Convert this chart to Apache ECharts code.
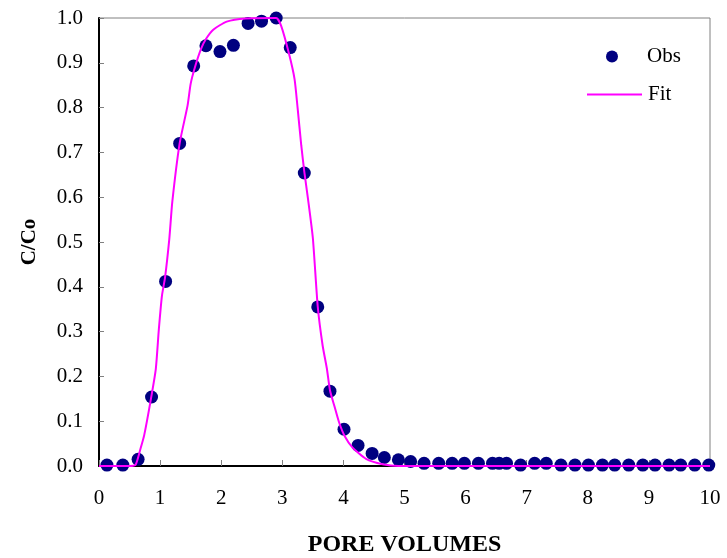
<!DOCTYPE html>
<html>
<head>
<meta charset="utf-8">
<script src="https://cdn.jsdelivr.net/npm/echarts@6/dist/echarts.min.js"></script>
<style>
  html, body { margin: 0; padding: 0; background: #fff; }
  #chart { width: 727px; height: 558px; }
</style>
</head>
<body>
<div id="chart"></div>
<script>
// Observed breakthrough concentrations (pore volumes vs C/Co)
const obsX = [0.13, 0.39, 0.64, 0.86, 1.09, 1.32, 1.55, 1.75, 1.98, 2.20, 2.44, 2.66, 2.90,
  3.13, 3.36, 3.58, 3.78, 4.01, 4.24, 4.47, 4.67, 4.90, 5.10, 5.32, 5.56, 5.78, 5.98, 6.21,
  6.44, 6.55, 6.67, 6.90, 7.13, 7.32, 7.56, 7.79, 8.01, 8.24, 8.44, 8.67, 8.90, 9.10, 9.33,
  9.52, 9.75, 9.98];
const obsY = [0.002, 0.002, 0.015, 0.154, 0.412, 0.720, 0.893, 0.938, 0.925, 0.939, 0.988, 0.993, 1.000,
  0.934, 0.654, 0.355, 0.167, 0.082, 0.046, 0.028, 0.019, 0.014, 0.010, 0.006, 0.006, 0.006, 0.006, 0.006,
  0.006, 0.006, 0.006, 0.002, 0.006, 0.006, 0.002, 0.002, 0.002, 0.002, 0.002, 0.002, 0.002, 0.002, 0.002,
  0.002, 0.002, 0.002];

// Fitted model curve
const fitX = [0, 0.50, 0.60, 0.68, 0.74, 0.85, 0.93, 0.98, 1.03, 1.08, 1.15, 1.20, 1.32, 1.45, 1.50,
  1.57, 1.67, 1.75, 1.87, 2.09, 2.40, 2.90, 2.98, 3.11, 3.20, 3.25, 3.31, 3.36, 3.42, 3.50, 3.58,
  3.66, 3.73, 3.78, 3.85, 3.93, 4.02, 4.15, 4.37, 4.64, 4.90, 6, 8, 10];
const fitY = [0, 0, 0.003, 0.039, 0.069, 0.150, 0.217, 0.306, 0.380, 0.420, 0.506, 0.590, 0.720, 0.805, 0.853,
  0.890, 0.931, 0.953, 0.974, 0.992, 0.999, 1.000, 0.983, 0.920, 0.864, 0.800, 0.716, 0.657, 0.597, 0.509, 0.356,
  0.269, 0.217, 0.169, 0.135, 0.097, 0.067, 0.041, 0.016, 0.004, 0, 0, 0, 0];

const xTicks = [0, 1, 2, 3, 4, 5, 6, 7, 8, 9, 10];
const yTicks = [0.0, 0.1, 0.2, 0.3, 0.4, 0.5, 0.6, 0.7, 0.8, 0.9, 1.0];

const FONT = 'Liberation Serif';
const chart = echarts.init(document.getElementById('chart'));

chart.setOption({
  animation: false,
  backgroundColor: '#fff',
  grid: {
    left: 99, right: 17, top: 18, bottom: 92,
    containLabel: false,
    outerBoundsMode: 'none',
    show: true, borderColor: '#808080', borderWidth: 1
  },
  legend: [
    {
      data: [{ name: 'Obs', icon: 'circle' }],
      left: 606, top: 46, padding: 0,
      itemWidth: 12, itemHeight: 12,
      textStyle: { fontFamily: FONT, fontSize: 21, color: '#000', padding: [0, 0, 0, 24] }
    },
    {
      data: [{ name: 'Fit', icon: 'rect' }],
      left: 587, top: 84, padding: 0,
      itemWidth: 55, itemHeight: 2,
      textStyle: { fontFamily: FONT, fontSize: 21, color: '#000', padding: [0, 0, 0, 1] }
    }
  ],
  xAxis: {
    type: 'value',
    min: xTicks[0], max: xTicks[xTicks.length - 1], interval: 1,
    name: 'PORE VOLUMES',
    nameLocation: 'middle', nameGap: 67,
    nameTextStyle: { fontFamily: FONT, fontSize: 24, fontWeight: 'bold', color: '#000' },
    axisLine: { show: true, lineStyle: { color: '#000', width: 2 } },
    axisTick: { show: true, inside: true, length: 6, lineStyle: { color: '#808080' } },
    axisLabel: { fontFamily: FONT, fontSize: 21, color: '#000', margin: 22 },
    splitLine: { show: false }
  },
  yAxis: {
    type: 'value',
    min: yTicks[0], max: yTicks[yTicks.length - 1], interval: 0.1,
    name: 'C/Co',
    nameLocation: 'middle', nameGap: 59, nameRotate: 90,
    nameTextStyle: { fontFamily: FONT, fontSize: 21, fontWeight: 'bold', color: '#000' },
    axisLine: { show: true, lineStyle: { color: '#000', width: 2 } },
    axisTick: { show: true, inside: true, length: 5, lineStyle: { color: '#808080' } },
    axisLabel: {
      fontFamily: FONT, fontSize: 21, color: '#000', margin: 16,
      formatter: v => v.toFixed(1)
    },
    splitLine: { show: false }
  },
  series: [
    {
      name: 'Fit',
      type: 'line',
      data: fitX.map((x, i) => [x, fitY[i]]),
      symbol: 'none',
      showSymbol: false,
      smooth: 0.2,
      clip: false,
      lineStyle: { color: '#FF00FF', width: 2 },
      itemStyle: { color: '#FF00FF' }
    },
    {
      name: 'Obs',
      type: 'scatter',
      data: obsX.map((x, i) => [x, obsY[i]]),
      symbol: 'circle',
      symbolSize: 13,
      clip: false,
      itemStyle: { color: '#000080', opacity: 1 }
    }
  ]
});
</script>
</body>
</html>
